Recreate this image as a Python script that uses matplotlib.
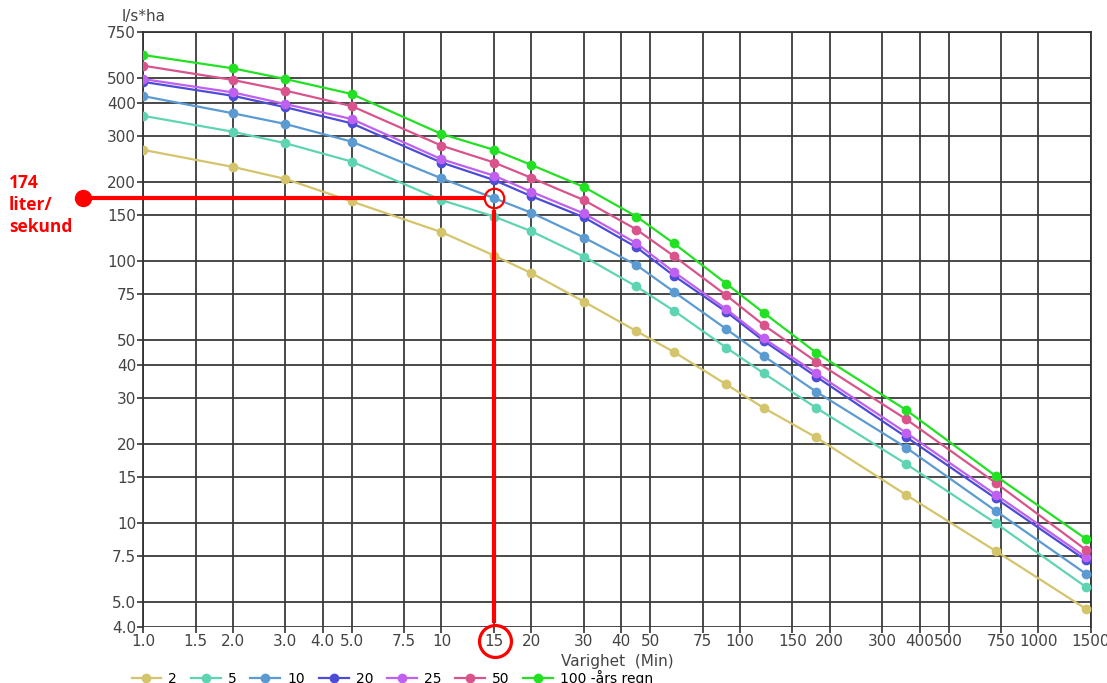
import matplotlib
matplotlib.use("Agg")
import matplotlib.pyplot as plt
from matplotlib.ticker import NullLocator
from matplotlib.legend_handler import HandlerLine2D
import numpy as np

# varighet i minutter
minutes = [1, 2, 3, 5, 10, 15, 20, 30, 45, 60, 90, 120, 180, 360, 720, 1440]

r2 = [266, 229, 206, 169, 129, 105, 90, 70, 54, 45, 33.8, 27.5, 21.2, 12.8, 7.8, 4.7]
r5 = [359, 312, 282, 240, 171, 148, 130, 104, 80, 64.7, 46.7, 37.3, 27.5, 16.8, 9.96, 5.7]
r10 = [427, 367, 334, 286, 207, 174, 153, 123, 96.6, 76.4, 55, 43.4, 31.7, 19.4, 11.1, 6.4]
r20 = [484, 428, 387, 336, 238, 204, 177, 147, 113, 88, 64, 49.6, 36.2, 21.3, 12.4, 7.2]
r25 = [496, 441, 398, 349, 245, 212, 184, 152, 117, 91, 65.5, 50.7, 37.3, 22.1, 12.8, 7.4]
r50 = [558, 492, 448, 391, 276, 238, 208, 171, 132, 104.6, 74, 57, 41.3, 24.9, 14.2, 7.9]
r100 = [613, 545, 496, 435, 306, 266, 233, 192, 148, 117, 82, 63.5, 44.7, 27, 15.1, 8.7]

series = [r2, r5, r10, r20, r25, r50, r100]
names = ['2', '5', '10', '20', '25', '50', '100 -års regn']
colors = ['#d4c46c', '#5fd4b2', '#5b9bd2', '#4c4cd6', '#c060f0', '#d9548c', '#22e022']

xticks = [1, 1.5, 2, 3, 4, 5, 7.5, 10, 15, 20, 30, 40, 50, 75, 100, 150, 200, 300, 400, 500, 750, 1000, 1500]
xlabels = ['1.0', '1.5', '2.0', '3.0', '4.0', '5.0', '7.5', '10', '15', '20', '30', '40', '50', '75',
           '100', '150', '200', '300', '400', '500', '750', '1000', '1500']
yticks = [4, 5, 7.5, 10, 15, 20, 30, 40, 50, 75, 100, 150, 200, 300, 400, 500, 750]
ylabels = ['4.0', '5.0', '7.5', '10', '15', '20', '30', '40', '50', '75', '100', '150', '200',
           '300', '400', '500', '750']

mark_x = 15
mark_y = 174

plt.rcParams['font.family'] = ['DejaVu Sans']

fig = plt.figure(figsize=(11.07, 6.83), dpi=100)
ax = fig.add_axes([0.1292, 0.082, 0.8563, 0.8711])

ax.set_xscale('log')
ax.set_yscale('log')
ax.set_xlim(1, 1500)
ax.set_ylim(4, 750)
ax.set_xticks(xticks)
ax.set_xticklabels(xlabels)
ax.set_yticks(yticks)
ax.set_yticklabels(ylabels)
ax.xaxis.set_minor_locator(NullLocator())
ax.yaxis.set_minor_locator(NullLocator())
ax.tick_params(labelsize=11, labelcolor='#444444', length=4, width=1.2, pad=1, color='#333333')
ax.grid(True, color='#3a3a3a', lw=1.3, zorder=0)
ax.set_axisbelow(True)
for s in ax.spines.values():
    s.set_color('#333333')
    s.set_linewidth(1.3)
ax.spines['bottom'].set_visible(False)

for vals, c, n in zip(series, colors, names):
    ax.plot(minutes, vals, color=c, lw=1.6, marker='o', ms=6, label=n, zorder=3)

ax.set_xlabel('Varighet  (Min)', fontsize=11, color='#444444', labelpad=4)
fig.text(0.110, 0.976, 'l/s*ha', fontsize=11, color='#444444', ha='left', va='center')

# rød markering
red = '#ff0000'
ax.plot([0.63, 13.8], [mark_y, mark_y], color=red, lw=3, clip_on=False, zorder=5)
ax.plot([0.63], [mark_y], 'o', color=red, ms=11.5, clip_on=False, zorder=5)
ax.plot([mark_x], [mark_y], 'o', mfc='none', mec=red, ms=14, mew=1.6, zorder=5)
ax.plot([mark_x, mark_x], [154, 4.2], color=red, lw=3, clip_on=False, zorder=5)
ax.plot([mark_x * 1.01], [3.54], 'o', mfc='none', mec=red, ms=23, mew=2.3, clip_on=False, zorder=5)
fig.text(0.008, 0.700, '174\nliter/\nsekund', color=red, fontsize=12.5, fontweight='bold',
         family='Open Sans', ha='left', va='center', linespacing=1.3)


class LeftMarker(HandlerLine2D):
    def get_xdata(self, legend, xdescent, ydescent, width, height, fontsize):
        xdata = np.array([-xdescent, -xdescent + width])
        return xdata, np.array([-xdescent + 2])


handles, labels = ax.get_legend_handles_labels()
fig.legend(handles, labels, loc='center left', bbox_to_anchor=(0.1075, 0.007), ncol=7,
           frameon=False, fontsize=10, handlelength=2.15, handletextpad=0.5, columnspacing=1.0,
           numpoints=1, handler_map={h: LeftMarker() for h in handles})

fig.savefig('out.png', dpi=100)
